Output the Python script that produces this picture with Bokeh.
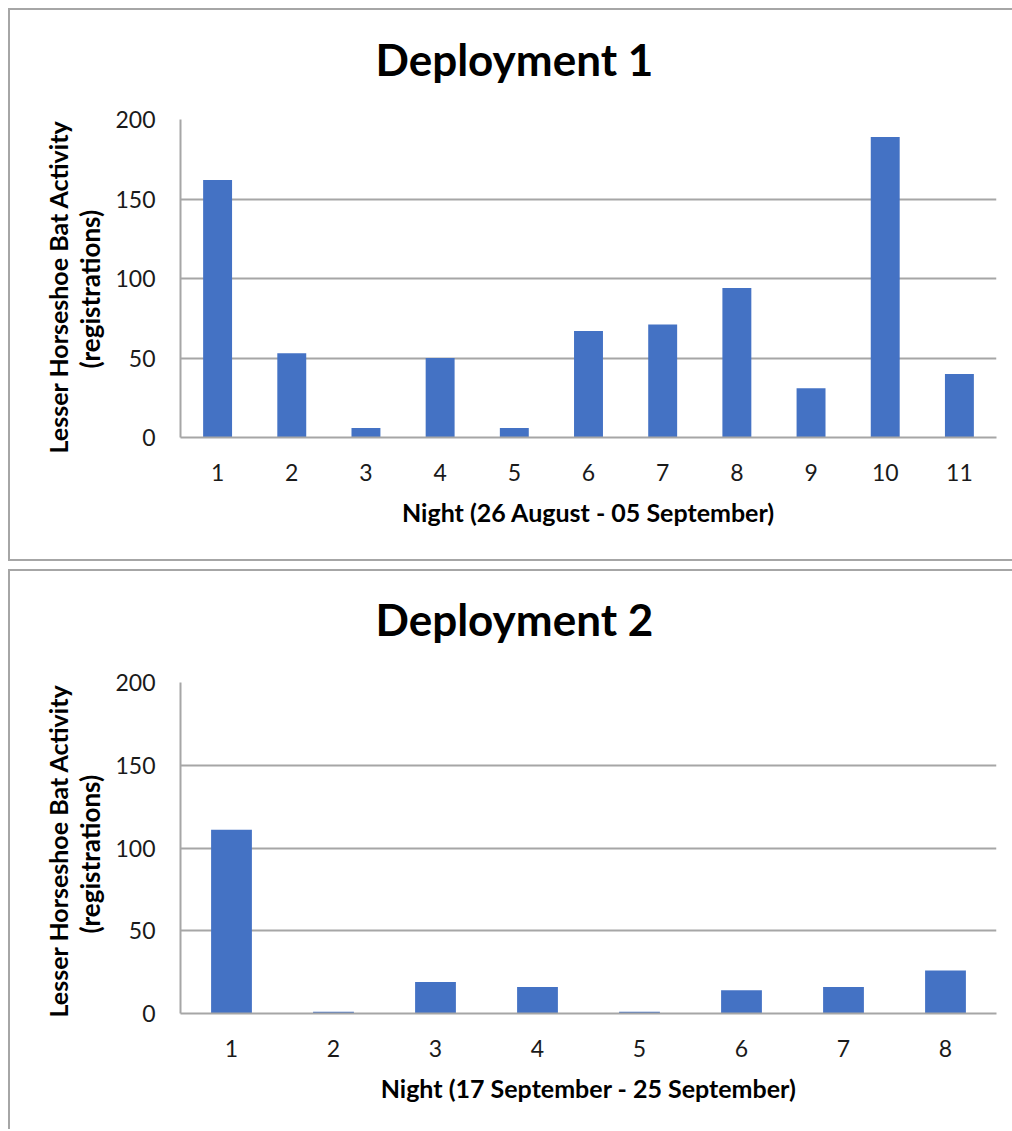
from bokeh.plotting import figure
from bokeh.models import Range1d, FixedTicker, Title, Column
from bokeh.embed import file_html
from bokeh.resources import INLINE

# ---- data ----
nights_1 = [1, 2, 3, 4, 5, 6, 7, 8, 9, 10, 11]
counts_1 = [162, 53, 6, 50, 6, 67, 71, 94, 31, 189, 40]
nights_2 = [1, 2, 3, 4, 5, 6, 7, 8]
counts_2 = [111, 1, 19, 16, 1, 14, 16, 26]
y_ticks = [0, 50, 100, 150, 200]
titles = ["Deployment 1", "Deployment 2"]
x_labels = ["Night (26 August - 05 September)", "Night (17 September - 25 September)"]
y_label_1 = "Lesser Horseshoe Bat Activity"
y_label_2 = "(registrations)"

FONT = "Lato"
BAR = "#4472C4"
GRID = "#a6a6a6"
BORDER = "2px solid #a6a6a6"
TXT = "#1a1a1a"


def y_title(text, size, standoff, offset):
    t = Title(text=text, text_font=FONT, text_font_size=size, text_font_style="bold",
              text_color="black", align="left", offset=offset)
    try:
        t.standoff = standoff
    except Exception:
        t.standoff = 0
    return t


def make_chart(title, nights, counts, xlabel, height, top, frame_h, bar_w,
               bottom_border, off1, off2, spacer):
    width = 1004
    left = 170
    p = figure(width=width, height=height, output_backend="svg", toolbar_location=None,
               x_range=Range1d(0.5, len(nights) + 0.5), y_range=Range1d(0, 200),
               min_border_left=left, min_border_right=width - left - 816,
               min_border_top=top, min_border_bottom=height - top - frame_h)
    p.outline_line_color = None
    p.background_fill_color = "white"
    p.border_fill_color = "white"
    p.title.text = ""

    p.vbar(x=nights, top=counts, width=bar_w, fill_color=BAR, line_color=None)

    # chart title: a blank spacer panel next to the frame, then the title text
    gap = Title(text=" ", text_font=FONT, text_font_size="10px", standoff=spacer)
    p.add_layout(gap, "above")
    main = Title(text=title, text_font=FONT, text_font_size="44px", text_font_style="bold",
                 text_color="black", align="left", offset=195, standoff=0)
    p.add_layout(main, "above")

    # y axis
    ya = p.yaxis[0]
    ya.ticker = FixedTicker(ticks=y_ticks)
    ya.axis_line_color = GRID
    ya.axis_line_width = 2
    ya.major_tick_line_color = None
    ya.minor_tick_line_color = None
    ya.major_tick_out = 0
    ya.minor_tick_out = 0
    ya.major_label_standoff = 25
    ya.major_label_text_font = FONT
    ya.major_label_text_font_size = "23px"
    ya.major_label_text_color = TXT

    # x axis
    xa = p.xaxis[0]
    xa.ticker = FixedTicker(ticks=nights)
    xa.axis_line_color = GRID
    xa.axis_line_width = 2
    xa.major_tick_line_color = None
    xa.minor_tick_line_color = None
    xa.major_tick_out = 0
    xa.minor_tick_out = 0
    xa.major_label_standoff = 26
    xa.major_label_text_font = FONT
    xa.major_label_text_font_size = "23px"
    xa.major_label_text_color = TXT

    p.xgrid.grid_line_color = None
    p.ygrid.ticker = FixedTicker(ticks=y_ticks)
    p.ygrid.grid_line_color = GRID
    p.ygrid.grid_line_width = 2

    # x axis title
    xt = Title(text=xlabel, text_font=FONT, text_font_size="25px", text_font_style="bold",
               text_color="black", align="center", standoff=22)
    p.add_layout(xt, "below")

    # y axis title, two lines (inner line first)
    p.add_layout(y_title(y_label_2, "26px", 14, off2), "left")
    p.add_layout(y_title(y_label_1, "25px", -16, off1), "left")

    st = {"border-left": BORDER, "border-top": BORDER, "border-right": "none"}
    if bottom_border:
        st["border-bottom"] = BORDER
    p.styles = st
    return p


p1 = make_chart(titles[0], nights_1, counts_1, x_labels[0], 553, 109, 318, 0.39, True, -16, 69, 21)
p2 = make_chart(titles[1], nights_2, counts_2, x_labels[1], 560, 111, 331, 0.40, False, -4, 80, 24)

layout = Column(children=[p1, p2], spacing=8, styles={"margin-left": "8px", "margin-top": "8px"})
open("out.html", "w").write(file_html(layout, INLINE))
